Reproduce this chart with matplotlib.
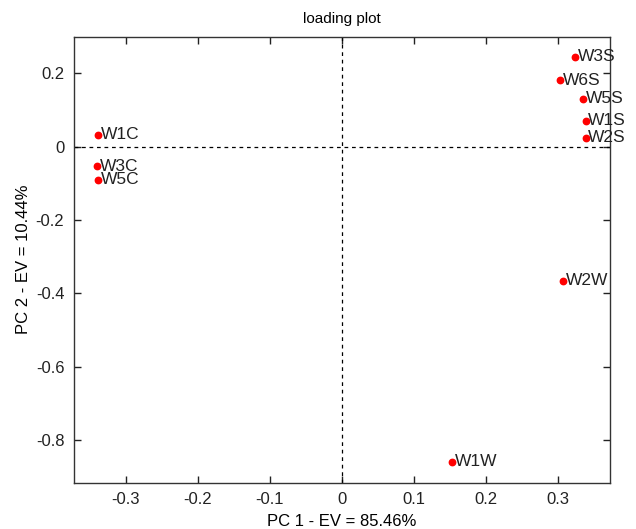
import matplotlib.pyplot as plt
import numpy as np

plt.rcParams['font.family'] = ['Liberation Sans', 'DejaVu Sans']

# loadings
names = ['W1C', 'W3C', 'W5C', 'W3S', 'W6S', 'W5S', 'W1S', 'W2S', 'W2W', 'W1W']
pc1 = [-0.338, -0.340, -0.338, 0.323, 0.302, 0.335, 0.338, 0.338, 0.307, 0.153]
pc2 = [0.032, -0.053, -0.090, 0.245, 0.181, 0.130, 0.070, 0.024, -0.365, -0.859]

xticks = [-0.3, -0.2, -0.1, 0, 0.1, 0.2, 0.3]
yticks = [-0.8, -0.6, -0.4, -0.2, 0, 0.2]

fig = plt.figure(figsize=(6.36, 5.29), dpi=100)
ax = fig.add_axes([74 / 636, 1 - 482.5 / 529, 536 / 636, 446 / 529])

ax.axvline(0, color='black', linestyle='--', linewidth=0.9, dashes=(3, 3))
ax.axhline(0, color='black', linestyle='--', linewidth=0.9, dashes=(3, 3))

ax.plot(pc1, pc2, 'o', color='red', markersize=4.6, linestyle='none')
for n, x, y in zip(names, pc1, pc2):
    ax.text(x + 0.004, y, n, fontsize=12.5, va='center', ha='left', color='#222222')

ax.set_xlim(-0.372, 0.372)
ax.set_ylim(-0.915, 0.30)
ax.set_xticks(xticks)
ax.set_yticks(yticks)
ax.set_xticklabels(['-0.3', '-0.2', '-0.1', '0', '0.1', '0.2', '0.3'])
ax.set_yticklabels(['-0.8', '-0.6', '-0.4', '-0.2', '0', '0.2'])
ax.tick_params(direction='in', length=5, width=1, top=True, right=True,
               labelsize=12, colors='#222222', pad=7)
for s in ax.spines.values():
    s.set_color('#333333')
    s.set_linewidth(1)

ax.set_xlabel('PC 1 - EV = 85.46%', fontsize=12, labelpad=5)
ax.set_ylabel('PC 2 - EV = 10.44%', fontsize=12, labelpad=3)
ax.set_title('loading plot', fontsize=11, pad=10)

fig.savefig('out.png', dpi=100)
